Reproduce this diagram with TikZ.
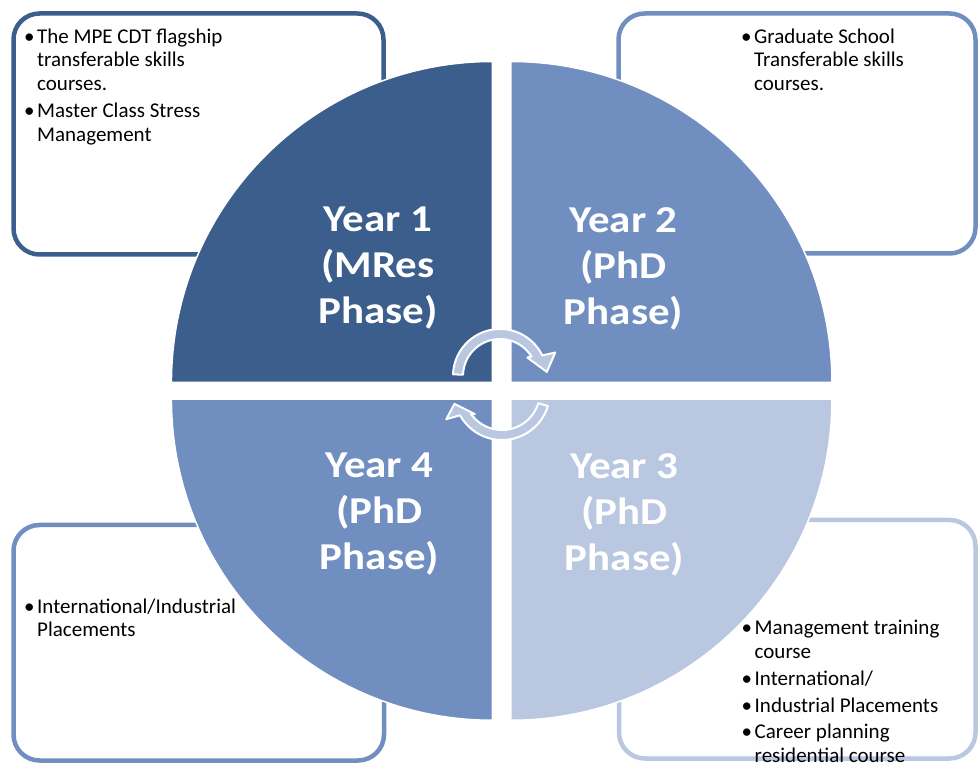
\documentclass[tikz,border=0pt]{standalone}
\usepackage{fontspec}
\setmainfont{Carlito}
\newfontfamily\yearfont[FakeStretch=1.13]{Carlito}
\usetikzlibrary{calc}
\definecolor{dk}{HTML}{3B5E8C}
\definecolor{md}{HTML}{708EBF}
\definecolor{lt}{HTML}{B9C7E0}
\begin{document}
\begin{tikzpicture}[x=1pt,y=1pt,
  infobox/.style={rounded corners=26pt, line width=4.5pt, fill=white},
  quad/.style={draw=white, line width=1.5pt},
  yearlbl/.style={text=white, font=\yearfont\fontsize{38}{46}\selectfont\bfseries, align=center, anchor=north, inner sep=0pt},
  boxtxt/.style={font=\fontsize{21}{23.7}\selectfont, anchor=base west, inner sep=0pt},
  cyc/.style={fill=lt, draw=white, line width=2pt, line join=round}]
\useasboundingbox (0,0) rectangle (978,764);
% information boxes
\draw[infobox, draw=dk] (13.5,509.5) rectangle (383.5,750.5);
\draw[infobox, draw=md] (618.5,510.5) rectangle (975.5,750.5);
\draw[infobox, draw=md] (13.5,3.5) rectangle (384,239);
\draw[infobox, draw=lt] (619,5.5) rectangle (975.5,244);
% quadrants
\path[quad, fill=dk] (492.45,381.5) -- (492.45,702.5) arc[start angle=90,end angle=180,radius=321] -- cycle;
\path[quad, fill=md] (510.95,381.5) -- (831.95,381.5) arc[start angle=0,end angle=90,radius=321] -- cycle;
\path[quad, fill=lt] (510.95,364.75) -- (510.95,43.75) arc[start angle=270,end angle=360,radius=321] -- cycle;
\path[quad, fill=md] (492.45,364.75) -- (171.45,364.75) arc[start angle=180,end angle=270,radius=321] -- cycle;
% year labels
\node[yearlbl] (y1) at (378,557) {Year 1\\(MRes\\Phase)};
\node[yearlbl] (y2) at (623.5,557) {Year 2\\(PhD\\Phase)};
\node[yearlbl] (y4) at (379.5,311) {Year 4\\(PhD\\Phase)};
\node[yearlbl] (y3) at (624.5,311) {Year 3\\(PhD\\Phase)};
% box texts
\node[boxtxt] (t1) at (37,720.7) {\begin{tabular}[t]{@{}l@{}}\llap{•\hspace{2.5pt}}The MPE CDT flagship\\ transferable skills\\ courses.\\[3.5pt] \llap{•\hspace{2.5pt}}Master Class Stress\\ Management\end{tabular}};
\node[boxtxt] (t2) at (754,720.7) {\begin{tabular}[t]{@{}l@{}}\llap{•\hspace{2.5pt}}Graduate School\\ Transferable skills\\ courses.\end{tabular}};
\node[boxtxt] (t4) at (37,150.7) {\begin{tabular}[t]{@{}l@{}}\llap{•\hspace{2.5pt}}International/Industrial\\ Placements\end{tabular}};
\node[boxtxt] (t3) at (754.5,129) {\begin{tabular}[t]{@{}l@{}}\llap{•\hspace{2.5pt}}Management training\\ course\\[3pt] \llap{•\hspace{2.5pt}}International/\\[3pt] \llap{•\hspace{2.5pt}}Industrial Placements\\[3pt] \llap{•\hspace{2.5pt}}Career planning\\ residential course\end{tabular}};
% cycle arrows
\coordinate (ca) at (500,388);
\coordinate (cb) at (502,372);
\draw[cyc] ($(ca)+(178:47)$) arc[start angle=178,end angle=26,radius=47]
  -- ($(ca)+(23:60)$) -- ($(ca)+(5:47)$) -- ($(ca)+(34:33)$) -- ($(ca)+(32:37)$)
  arc[start angle=32,end angle=178,radius=37] -- cycle;
\draw[cyc] ($(cb)+(343:48)$) arc[start angle=343,end angle=209,radius=48]
  -- ($(cb)+(206:62)$) -- ($(cb)+(194:49)$) -- ($(cb)+(219:35)$) -- ($(cb)+(215:38)$)
  arc[start angle=215,end angle=343,radius=38] -- cycle;
\end{tikzpicture}
\end{document}
